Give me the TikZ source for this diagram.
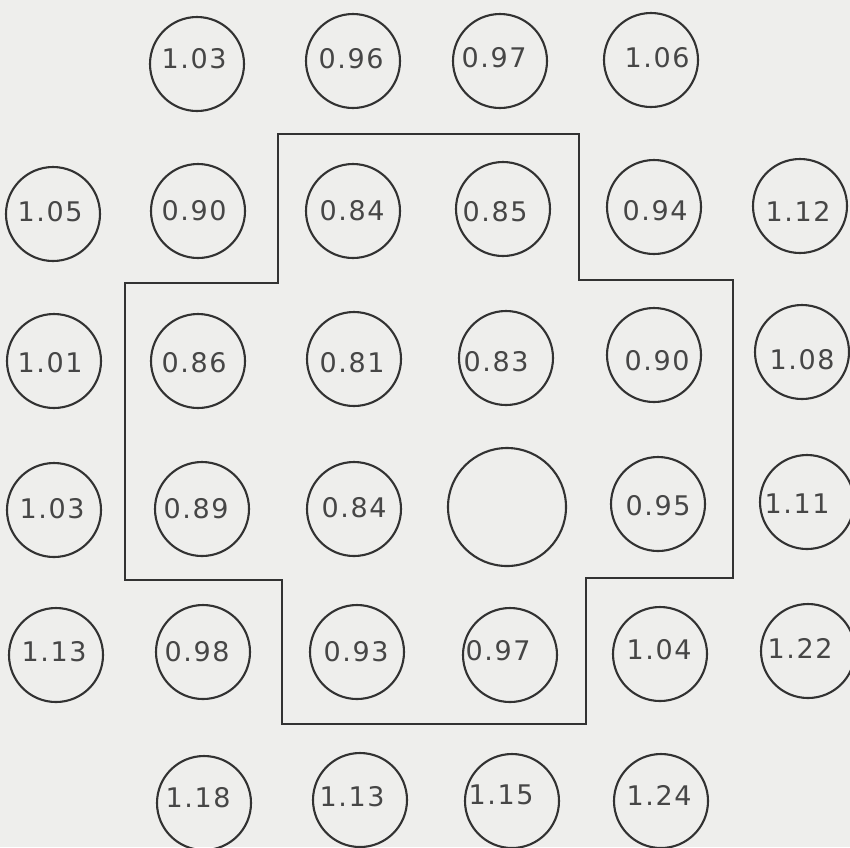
\documentclass[tikz,border=0pt]{standalone}
\usepackage{fontspec}
\setmainfont{DejaVu Sans}[LetterSpace=6]
\definecolor{paper}{RGB}{238,238,236}
\definecolor{ink}{RGB}{50,50,50}
\definecolor{txt}{RGB}{70,70,70}
\begin{document}
\begin{tikzpicture}[x=1pt,y=-1pt,
  ring/.style={circle,draw=ink,line width=2.1pt,minimum size=94pt,inner sep=0pt},
  bigring/.style={circle,draw=ink,line width=2.1pt,minimum size=118pt,inner sep=0pt},
  val/.style={inner sep=0pt,text=txt,font=\fontsize{27}{31}\selectfont},
  zone/.style={draw=ink,line width=1.8pt}]
\fill[paper] (0,0) rectangle (850,847);
\useasboundingbox (0,0) rectangle (850,847);
% row 1
\node[ring] (c11) at (197,64) {};  \node[val] (t11) at (194,59) {1.03};
\node[ring] (c12) at (353,61) {};  \node[val] (t12) at (351,59) {0.96};
\node[ring] (c13) at (500,61) {};  \node[val] (t13) at (494,58) {0.97};
\node[ring] (c14) at (651,60) {};  \node[val] (t14) at (657,58) {1.06};
% row 2
\node[ring] (c21) at (53,214) {};  \node[val] (t21) at (50,212) {1.05};
\node[ring] (c22) at (198,211) {}; \node[val] (t22) at (194,211) {0.90};
\node[ring] (c23) at (353,211) {}; \node[val] (t23) at (352,211) {0.84};
\node[ring] (c24) at (503,209) {}; \node[val] (t24) at (495,212) {0.85};
\node[ring] (c25) at (654,207) {}; \node[val] (t25) at (655,211) {0.94};
\node[ring] (c26) at (800,206) {}; \node[val] (t26) at (798,211) {1.12};
% row 3
\node[ring] (c31) at (54,361) {};  \node[val] (t31) at (50,363) {1.01};
\node[ring] (c32) at (198,361) {}; \node[val] (t32) at (194,363) {0.86};
\node[ring] (c33) at (354,359) {}; \node[val] (t33) at (352,363) {0.81};
\node[ring] (c34) at (506,358) {}; \node[val] (t34) at (496,362) {0.83};
\node[ring] (c35) at (654,355) {}; \node[val] (t35) at (657,361) {0.90};
\node[ring] (c36) at (802,352) {}; \node[val] (t36) at (802,360) {1.08};
% row 4
\node[ring] (c41) at (54,510) {};  \node[val] (t41) at (52,509) {1.03};
\node[ring] (c42) at (202,509) {}; \node[val] (t42) at (196,509) {0.89};
\node[ring] (c43) at (354,509) {}; \node[val] (t43) at (354,508) {0.84};
\node[bigring] (c44) at (507,507) {};
\node[ring] (c45) at (658,504) {}; \node[val] (t45) at (658,506) {0.95};
\node[ring] (c46) at (807,502) {}; \node[val] (t46) at (797,504) {1.11};
% row 5
\node[ring] (c51) at (56,655) {};  \node[val] (t51) at (54,652) {1.13};
\node[ring] (c52) at (203,652) {}; \node[val] (t52) at (197,652) {0.98};
\node[ring] (c53) at (357,652) {}; \node[val] (t53) at (356,652) {0.93};
\node[ring] (c54) at (510,655) {}; \node[val] (t54) at (498,651) {0.97};
\node[ring] (c55) at (660,654) {}; \node[val] (t55) at (659,650) {1.04};
\node[ring] (c56) at (808,651) {}; \node[val] (t56) at (800,648) {1.22};
% row 6
\node[ring] (c62) at (204,803) {}; \node[val] (t62) at (198,798) {1.18};
\node[ring] (c63) at (360,800) {}; \node[val] (t63) at (352,797) {1.13};
\node[ring] (c64) at (512,801) {}; \node[val] (t64) at (501,795) {1.15};
\node[ring] (c65) at (661,801) {}; \node[val] (t65) at (659,795) {1.24};
% cross-shaped zone boundary
\draw[zone] (278,134) -- (579,134) -- (579,280) -- (733,280) -- (733,578)
  -- (586,578) -- (586,724) -- (282,724) -- (282,580) -- (125,580)
  -- (125,283) -- (278,283) -- cycle;
\end{tikzpicture}
\end{document}
